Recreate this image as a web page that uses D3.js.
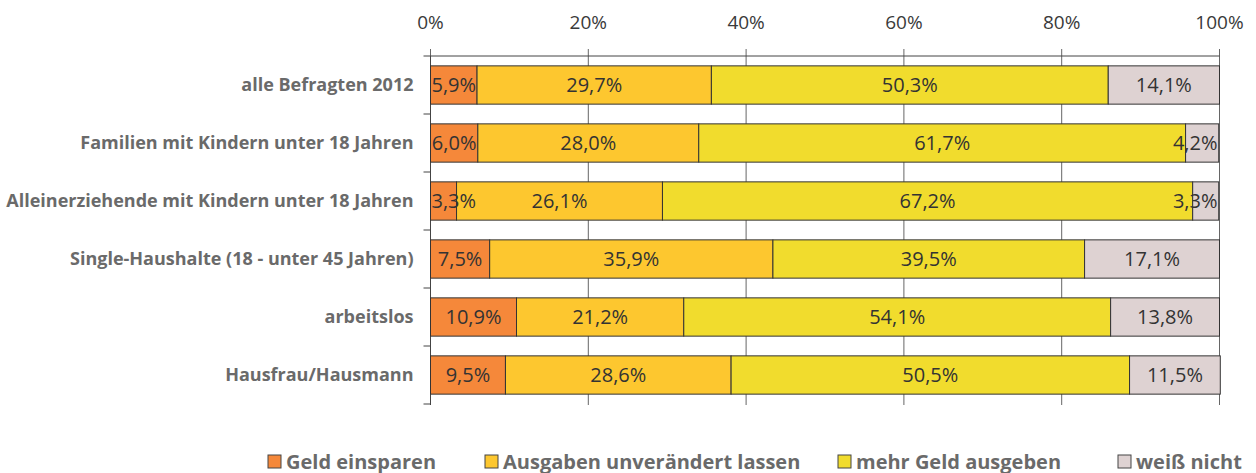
<!DOCTYPE html>
<html>
<head>
<meta charset="utf-8">
<script src="https://cdn.jsdelivr.net/npm/d3@7"></script>
<style>
  body { margin: 0; background: #fff; }
  svg { display: block; }
  text { font-family: "Open Sans", sans-serif; }
</style>
</head>
<body>
<svg id="chart" width="1256" height="473"></svg>
<script>
// categories (top to bottom)
const categories = [
    'alle Befragten 2012',
    'Familien mit Kindern unter 18 Jahren',
    'Alleinerziehende mit Kindern unter 18 Jahren',
    'Single-Haushalte (18 - unter 45 Jahren)',
    'arbeitslos',
    'Hausfrau/Hausmann'
];

const seriesNames = ['Geld einsparen', 'Ausgaben unverändert lassen', 'mehr Geld ausgeben', 'weiß nicht'];
const seriesColors = ['#f5883a', '#fdc72f', '#f1dc2d', '#ded2d2'];

// values in percent, one array per series
const geldEinsparen = [5.9, 6.0, 3.3, 7.5, 10.9, 9.5];
const unveraendert = [29.7, 28.0, 26.1, 35.9, 21.2, 28.6];
const mehrAusgeben = [50.3, 61.7, 67.2, 39.5, 54.1, 50.5];
const weissNicht = [14.1, 4.2, 3.3, 17.1, 13.8, 11.5];

const xTicks = [0, 20, 40, 60, 80, 100];

const legendX = [268, 485, 838, 1118];

const seriesValues = [geldEinsparen, unveraendert, mehrAusgeben, weissNicht];

const svg = d3.select('#chart');
const margin = {top: 56, left: 430.5, right: 36.5, bottom: 69};
const width = 1256 - margin.left - margin.right;
const height = 473 - margin.top - margin.bottom;

const x = d3.scaleLinear().domain([0, 100]).range([0, width]);
const y = d3.scaleBand().domain(categories).range([0, height]).paddingInner(0.34).paddingOuter(0.17);

const g = svg.append('g').attr('transform', `translate(${margin.left},${margin.top})`);

// build stacked data
const rows = categories.map((c, i) => {
    const row = {cat: c};
    seriesNames.forEach((s, j) => row[s] = seriesValues[j][i]);
    return row;
});
const stacked = d3.stack().keys(seriesNames)(rows);

// vertical grid lines
g.append('g')
    .selectAll('line')
    .data(xTicks)
    .enter()
    .append('line')
    .attr('x1', d => x(d))
    .attr('x2', d => x(d))
    .attr('y1', -7)
    .attr('y2', height + 1)
    .attr('stroke', '#666')
    .attr('stroke-width', 1);

// top axis line
g.append('line')
    .attr('x1', 0).attr('x2', width)
    .attr('y1', 0).attr('y2', 0)
    .attr('stroke', '#444');

// left axis with band ticks
const bandEdges = d3.range(categories.length + 1).map(i => i * height / categories.length);
g.append('line')
    .attr('x1', 0).attr('x2', 0)
    .attr('y1', 0).attr('y2', height + 1)
    .attr('stroke', '#444');
g.append('g')
    .selectAll('line')
    .data(bandEdges)
    .enter()
    .append('line')
    .attr('x1', -7).attr('x2', 0)
    .attr('y1', d => d).attr('y2', d => d)
    .attr('stroke', '#444');

// x tick labels
g.append('g')
    .selectAll('text')
    .data(xTicks)
    .enter()
    .append('text')
    .attr('x', d => x(d))
    .attr('y', -27)
    .attr('text-anchor', 'middle')
    .attr('fill', '#3a3a3a')
    .style('font-size', '19px')
    .text(d => d + '%');

// category labels
g.append('g')
    .selectAll('text')
    .data(categories)
    .enter()
    .append('text')
    .attr('x', -17)
    .attr('y', d => y(d) + y.bandwidth() / 2)
    .attr('dy', '0.35em')
    .attr('text-anchor', 'end')
    .attr('fill', '#6a6a6a')
    .style('font-size', '18px')
    .style('font-weight', 'bold')
    .text(d => d);

// bars
const fmt = v => v.toFixed(1).replace('.', ',') + '%';
g.append('g')
    .selectAll('g')
    .data(stacked)
    .enter()
    .append('g')
    .attr('fill', (d, i) => seriesColors[i])
    .selectAll('rect')
    .data(d => d)
    .enter()
    .append('rect')
    .attr('x', d => x(d[0]))
    .attr('y', d => y(d.data.cat))
    .attr('width', d => x(d[1]) - x(d[0]))
    .attr('height', y.bandwidth())
    .attr('stroke', '#333')
    .attr('stroke-width', 1);

// value labels on top of all bars, kept inside the plot when a segment is narrow
g.append('g')
    .selectAll('g')
    .data(stacked)
    .enter()
    .append('g')
    .selectAll('text')
    .data(d => d)
    .enter()
    .append('text')
    .attr('y', d => y(d.data.cat) + y.bandwidth() / 2)
    .attr('dy', '0.35em')
    .attr('text-anchor', 'middle')
    .attr('fill', '#333')
    .style('font-size', '20px')
    .text(d => fmt(d[1] - d[0]))
    .attr('x', function(d) {
        const w = this.getComputedTextLength();
        const mid = (x(d[0]) + x(d[1])) / 2;
        return Math.min(Math.max(mid, w / 2 + 1), width - w / 2 - 2);
    });

// legend
const legend = svg.append('g')
    .selectAll('g')
    .data(seriesNames)
    .enter()
    .append('g')
    .attr('transform', (d, i) => `translate(${legendX[i]},455)`);

legend.append('rect')
    .attr('width', 13)
    .attr('height', 13)
    .attr('fill', (d, i) => seriesColors[i])
    .attr('stroke', '#444');

legend.append('text')
    .attr('x', 18)
    .attr('y', 6.5)
    .attr('dy', '0.35em')
    .attr('fill', '#6a6a6a')
    .style('font-size', '20px')
    .style('font-weight', 'bold')
    .text(d => d);
</script>
</body>
</html>
